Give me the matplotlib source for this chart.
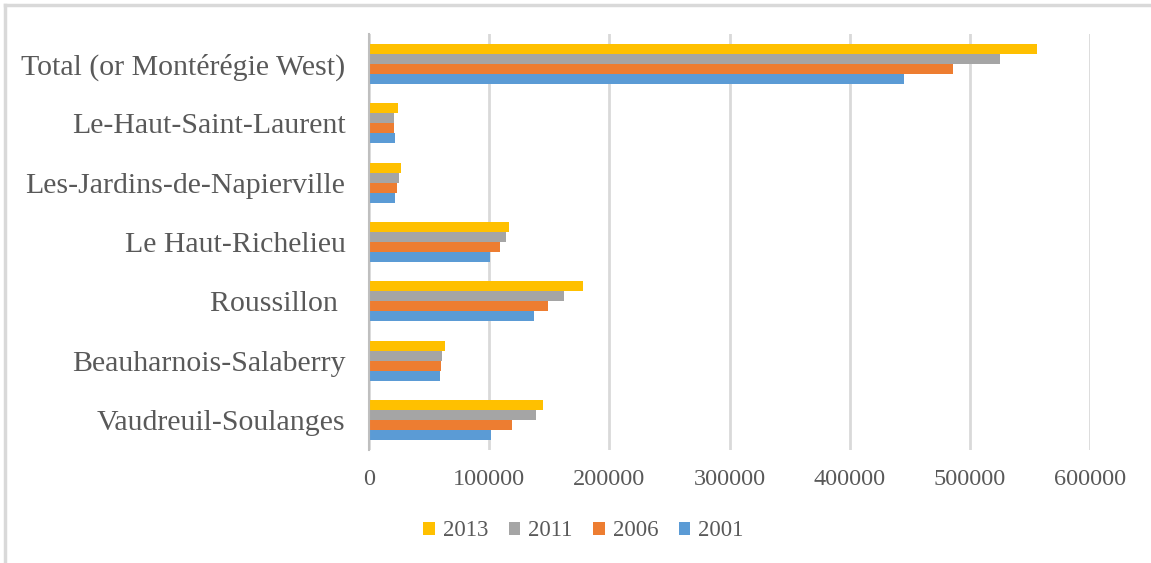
import numpy as np
import matplotlib.pyplot as plt
from matplotlib.lines import Line2D

plt.rcParams['font.family'] = ['Liberation Serif', 'DejaVu Serif']

# regions, listed top to bottom
regions = ['Total (or Montérégie West)', 'Le-Haut-Saint-Laurent',
           'Les-Jardins-de-Napierville', 'Le Haut-Richelieu', 'Roussillon ',
           'Beauharnois-Salaberry', 'Vaudreuil-Soulanges']

years = ['2013', '2011', '2006', '2001']
colors = ['#FFC000', '#A5A5A5', '#ED7D31', '#5B9BD5']

pop_2013 = [556000, 24400, 26400, 116400, 177800, 63300, 145000]
pop_2011 = [525000, 21000, 25300, 114200, 162000, 61100, 138600]
pop_2006 = [486000, 21100, 23100, 108900, 149200, 60300, 119400]
pop_2001 = [445000, 21300, 22000, 100300, 137500, 59200, 101400]
series = [pop_2013, pop_2011, pop_2006, pop_2001]

fig = plt.figure(figsize=(11.51, 5.63), dpi=100)
ax = fig.add_axes([0.3206, 0.2007, 0.6264, 0.7389])

y = np.arange(len(regions))
h = 0.168
for i, (vals, yr, c) in enumerate(zip(series, years, colors)):
    ax.barh(y + (i - 1.5) * h, vals, height=h, color=c, label=yr)

ax.set_ylim(len(regions) - 0.5, -0.5)
ax.set_xlim(0, 600000)
ax.set_xticks(np.arange(0, 600001, 100000))
ax.set_yticks(y)
ax.set_yticklabels(regions, fontsize=21.5, color='#595959')
ax.tick_params(axis='x', labelsize=17.5, colors='#595959', length=0, pad=14)
ax.tick_params(axis='y', length=0, pad=17)
ax.xaxis.grid(True, color='#D9D9D9', linewidth=2)
ax.set_axisbelow(True)
for side in ['top', 'right', 'bottom']:
    ax.spines[side].set_visible(False)
ax.spines['left'].set_color('#BFBFBF')
ax.spines['left'].set_linewidth(1.5)

fig.legend(loc='center', bbox_to_anchor=(0.507, 0.057), ncol=4, frameon=False,
           fontsize=16.5, handlelength=0.5, handleheight=0.5, handletextpad=0.35,
           columnspacing=0.9, labelcolor='#595959')

# chart frame: only the top and left edges fall inside the image
frame = dict(transform=fig.transFigure, color='#D9D9D9', linewidth=2.5)
fig.add_artist(Line2D([5 / 1151, 1], [1 - 5 / 563, 1 - 5 / 563], **frame))
fig.add_artist(Line2D([5 / 1151, 5 / 1151], [0, 1 - 5 / 563], **frame))

plt.savefig('out.png', dpi=100, facecolor='white')
